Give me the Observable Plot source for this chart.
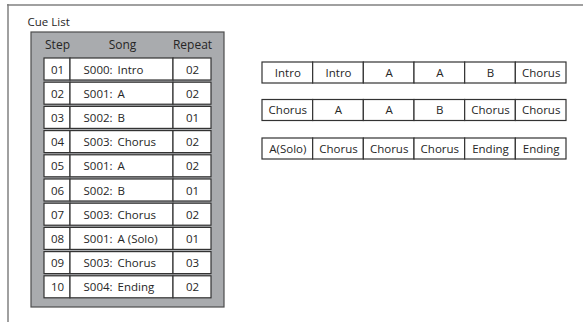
<!DOCTYPE html>
<html>
<head>
<meta charset="utf-8">
<script src="https://cdn.jsdelivr.net/npm/d3@7"></script>
<script src="https://cdn.jsdelivr.net/npm/@observablehq/plot@0.6"></script>
<style>
  html, body { margin: 0; padding: 0; background: #fff; }
</style>
</head>
<body>
<div id="chart"></div>
<script>
// ---- data ----
const title = "Cue List";
const headers = ["Step", "Song", "Repeat"];
const steps = ["01", "02", "03", "04", "05", "06", "07", "08", "09", "10"];
const songCodes = ["S000:", "S001:", "S002:", "S003:", "S001:", "S002:", "S003:", "S001:", "S003:", "S004:"];
const songNames = ["Intro", "A", "B", "Chorus", "A", "B", "Chorus", "A (Solo)", "Chorus", "Ending"];
const repeats = ["02", "02", "01", "02", "02", "01", "02", "01", "03", "02"];
const playRow1 = ["Intro", "Intro", "A", "A", "B", "Chorus"];
const playRow2 = ["Chorus", "A", "A", "B", "Chorus", "Chorus"];
const playRow3 = ["A(Solo)", "Chorus", "Chorus", "Chorus", "Ending", "Ending"];

// ---- layout ----
const W = 583, H = 322;
const colEdges = [44, 70, 173, 211];       // step | song | repeat
const rowTop0 = 58, rowPitch = 24.2, rowH = 22;
const playLeft = 262, playRight = 566;
const playTops = [62, 99.5, 138], playH = 21;

const listRows = steps.map((s, i) => ({
  i, step: s, code: songCodes[i], name: songNames[i], rep: repeats[i],
  y1: rowTop0 + i * rowPitch, y2: rowTop0 + i * rowPitch + rowH
}));
const listCells = listRows.flatMap(r => [0, 1, 2].map(c => ({
  x1: colEdges[c], x2: colEdges[c + 1], y1: r.y1, y2: r.y2
})));

const playRows = [playRow1, playRow2, playRow3];
const cw = (playRight - playLeft) / 6;
const playCells = playRows.flatMap((row, r) => row.map((label, c) => ({
  label,
  x1: playLeft + c * cw, x2: playLeft + (c + 1) * cw,
  y1: playTops[r], y2: playTops[r] + playH
})));

const font = "'Open Sans', 'Noto Sans', sans-serif";
const ink = "#262626";

const chart = Plot.plot({
  width: W, height: H,
  marginTop: 0, marginRight: 0, marginBottom: 0, marginLeft: 0,
  x: {type: "linear", domain: [0, W], range: [0, W], axis: null},
  y: {type: "linear", domain: [0, H], range: [0, H], axis: null},
  style: {fontFamily: font, fontSize: "11.5px", color: ink, background: "#fff"},
  marks: [
    // outer frame
    Plot.ruleY([4.5], {x1: 7, x2: W, stroke: "#808080", strokeWidth: 1.5}),
    Plot.ruleX([7.5], {y1: 4, y2: H, stroke: "#808080", strokeWidth: 1.5}),
    // title
    Plot.text([title], {x: 27, y: 22, text: d => d, textAnchor: "start", fill: ink, fontSize: 11.5}),
    // gray panel
    Plot.rect([{x1: 31, x2: 224, y1: 32, y2: 307}], {x1: "x1", x2: "x2", y1: "y1", y2: "y2",
      fill: "#a9abae", stroke: "#4d4d4d", strokeWidth: 1.2}),
    // headers
    Plot.text(headers, {x: (d, i) => [57, 122, 192][i], y: 45, text: d => d, fill: ink, fontSize: 12}),
    // list cells
    Plot.rect(listCells, {x1: "x1", x2: "x2", y1: "y1", y2: "y2", fill: "#fff", stroke: "#333", strokeWidth: 1.2}),
    Plot.text(listRows, {x: 57, y: d => (d.y1 + d.y2) / 2 + 0.5, text: "step", fill: ink}),
    Plot.text(listRows, {x: 83, y: d => (d.y1 + d.y2) / 2 + 0.5, text: "code", textAnchor: "start", fill: ink}),
    Plot.text(listRows, {x: 117, y: d => (d.y1 + d.y2) / 2 + 0.5, text: "name", textAnchor: "start", fill: ink}),
    Plot.text(listRows, {x: 192, y: d => (d.y1 + d.y2) / 2 + 0.5, text: "rep", fill: ink}),
    // play order rows
    Plot.rect(playCells, {x1: "x1", x2: "x2", y1: "y1", y2: "y2", fill: "#fff", stroke: "#333", strokeWidth: 1.2}),
    Plot.text(playCells, {x: d => (d.x1 + d.x2) / 2, y: d => (d.y1 + d.y2) / 2, text: "label", fill: ink})
  ]
});
document.getElementById("chart").appendChild(chart);
</script>
</body>
</html>
